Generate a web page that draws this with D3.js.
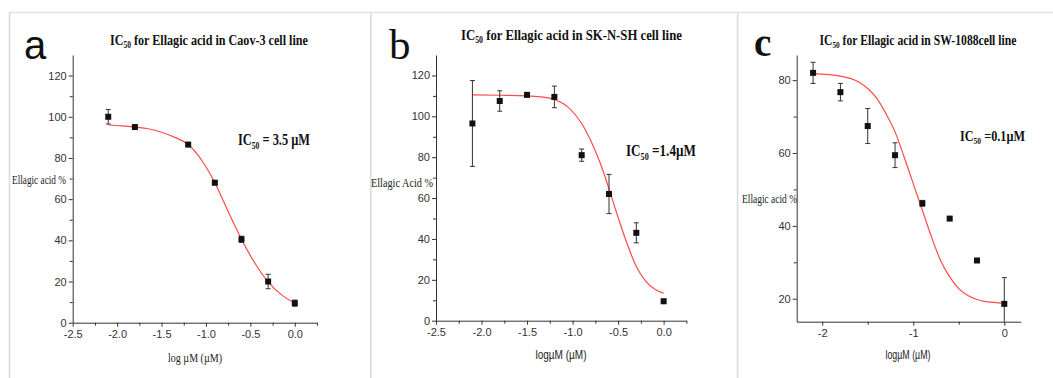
<!DOCTYPE html>
<html>
<head>
<meta charset="utf-8">
<script src="https://cdn.jsdelivr.net/npm/d3@7/dist/d3.min.js"></script>
<style>
  body { margin: 0; background: #fff; }
  svg { display: block; }
  .tick text { font-family: "Liberation Sans Narrow", "Arial Narrow", "Liberation Sans", sans-serif; font-size: 11px; fill: #333; }
  .tick line, .domain { stroke: #333; }
</style>
</head>
<body>
<div id="chart"></div>
<script>
// panel a : Caov-3
const doseA = [-2.1, -1.8, -1.2, -0.9, -0.6, -0.3, 0.0];
const meanA = [100, 95, 86.5, 68, 40.5, 20, 9.5];
const errA = [3.5, 1, 1, 1, 1.5, 3.5, 1.5];
const fitXA = [-2.1, -1.95, -1.8, -1.65, -1.5, -1.35, -1.2, -1.05, -0.9, -0.75, -0.6, -0.45, -0.3, -0.15, 0];
const fitYA = [96, 95.6, 95, 94.2, 92.5, 90, 86.5, 79, 68, 54, 40.5, 29, 19.8, 13.5, 9.5];

// panel b : SK-N-SH
const doseB = [-2.1, -1.8, -1.5, -1.2, -0.9, -0.6, -0.3, 0.0];
const meanB = [96.5, 107.5, 110.5, 109.5, 81, 62, 43, 9.5];
const errB = [21, 5, 1, 5.3, 3, 9.6, 4.9, 1];
const fitXB = [-2.1, -1.8, -1.5, -1.35, -1.2, -1.05, -0.9, -0.8, -0.7, -0.6, -0.5, -0.4, -0.3, -0.2, -0.1, 0];
const fitYB = [110.5, 110.3, 110, 109.5, 108.2, 104.5, 96.5, 88, 77.5, 64.5, 50.5, 37.5, 26.5, 19.5, 15.5, 13.5];

// panel c : SW-1088
const doseC = [-2.1, -1.8, -1.5, -1.2, -0.9, -0.6, -0.3, 0.0];
const meanC = [82, 76.7, 67.4, 59.4, 46.2, 42, 30.5, 18.6];
const errC = [2.9, 2.4, 4.8, 3.4, 0.8, 0.5, 0.5, 7.2];
const fitXC = [-2.1, -1.8, -1.6, -1.5, -1.4, -1.3, -1.2, -1.1, -1.0, -0.9, -0.8, -0.7, -0.6, -0.5, -0.4, -0.3, -0.2, 0];
const fitYC = [81.8, 81.1, 79.5, 77.7, 75, 70.8, 65.8, 58.9, 51.6, 44.3, 37, 30.5, 26, 22.8, 20.9, 19.8, 19.2, 18.8];

// ticks
const xTicksAB = [-2.5, -2.0, -1.5, -1.0, -0.5, 0.0];
const xMinorAB = [-2.25, -1.75, -1.25, -0.75, -0.25, 0.25];
const yTicksAB = [0, 20, 40, 60, 80, 100, 120];
const yMinorAB = [10, 30, 50, 70, 90, 110];
const xTicksC = [-2, -1, 0];
const xMinorC = [-1.5, -0.5];
const yTicksC = [20, 40, 60, 80];
const yMinorC = [30, 50, 70];

const panels = [
    {
        letter: "a", letterFont: "Liberation Sans", letterWeight: "normal", letterSize: 40, letterX: 24, letterY: 59,
        title: ["IC", "50", "for Ellagic acid in  Caov-3 cell line"], titleX: 209, titleY: 45, titleW: 198, titleSize: 15,
        ic50: ["IC", "50", "= 3.5 µM"], icX: 238, icY: 145, icW: 72, icSize: 17,
        ylab: "Ellagic acid %", ylabX: 12, ylabY: 184, ylabW: 54, ylabFont: "Liberation Serif",
        xlab: "log µM (µM)", xlabX: 195, xlabY: 362, xlabW: 54, xlabFont: "Liberation Serif",
        xDomain: [-2.5, 0.25], xRange: [72.7, 317], yDomain: [0, 130], yRange: [322.7, 55],
        xTicks: xTicksAB, xMinor: xMinorAB, yTicks: yTicksAB, yMinor: yMinorAB, xFmt: d => d.toFixed(1),
        dose: doseA, mean: meanA, err: errA, fitX: fitXA, fitY: fitYA
    },
    {
        letter: "b", letterFont: "Liberation Serif", letterWeight: "normal", letterSize: 43, letterX: 389, letterY: 59,
        title: ["IC", "50", "for Ellagic acid in  SK-N-SH cell line"], titleX: 571.5, titleY: 40, titleW: 221, titleSize: 15,
        ic50: ["IC", "50", "=1.4µM"], icX: 626, icY: 156, icW: 70, icSize: 17,
        ylab: "Ellagic Acid %", ylabX: 371, ylabY: 187, ylabW: 62, ylabFont: "Liberation Serif",
        xlab: "logµM (µM)", xlabX: 561, xlabY: 359, xlabW: 51, xlabFont: "Liberation Sans Narrow",
        xDomain: [-2.5, 0.25], xRange: [436, 686.4], yDomain: [0, 130], yRange: [320.7, 55],
        xTicks: xTicksAB, xMinor: xMinorAB, yTicks: yTicksAB, yMinor: yMinorAB, xFmt: d => d.toFixed(1),
        dose: doseB, mean: meanB, err: errB, fitX: fitXB, fitY: fitYB
    },
    {
        letter: "c", letterFont: "Liberation Serif", letterWeight: "bold", letterSize: 39, letterX: 754, letterY: 56,
        title: ["IC", "50", "for Ellagic acid in  SW-1088cell line"], titleX: 918, titleY: 45, titleW: 197, titleSize: 14,
        ic50: ["IC", "50", "=0.1µM"], icX: 960, icY: 141, icW: 65, icSize: 14,
        ylab: "Ellagic acid %", ylabX: 742, ylabY: 203, ylabW: 55, ylabFont: "Liberation Serif",
        xlab: "logµM (µM)", xlabX: 908, xlabY: 359, xlabW: 45, xlabFont: "Liberation Sans Narrow",
        xDomain: [-2.28, 0.18], xRange: [796.7, 1020.7], yDomain: [13.7, 86.9], yRange: [321.7, 55],
        xTicks: xTicksC, xMinor: xMinorC, yTicks: yTicksC, yMinor: yMinorC, xFmt: d => String(d).replace("\u2212", "-"),
        dose: doseC, mean: meanC, err: errC, fitX: fitXC, fitY: fitYC
    }
];

const width = 1053, height = 378;
const svg = d3.select("#chart").append("svg").attr("width", width).attr("height", height);

// light frame lines around the panels
svg.append("line").attr("x1", 9).attr("x2", width).attr("y1", 12.5).attr("y2", 12.5)
    .attr("stroke", "#e2e2e2").attr("stroke-width", 1.5);
[9.5, 370.8, 737.6].forEach(x => {
    svg.append("line").attr("x1", x).attr("x2", x).attr("y1", 12).attr("y2", height)
        .attr("stroke", "#dcdcdc").attr("stroke-width", 1.6);
});

// "IC" + subscript "50" + rest, laid out piece by piece then squeezed to width w
function subText(g, parts, x, y, size, w, anchor) {
    const grp = g.append("g");
    let cx = 0;
    parts.forEach((s, i) => {
        const t = grp.append("text")
            .attr("x", cx)
            .attr("y", i === 1 ? size * 0.22 : 0)
            .attr("font-family", "Liberation Serif, Times New Roman, serif")
            .attr("font-weight", "bold")
            .attr("font-size", i === 1 ? size * 0.62 : size)
            .attr("fill", "#111")
            .text(s);
        cx += t.node().getComputedTextLength();
        if (i === 1) cx += size * 0.25;
    });
    const sx = w / cx;
    const left = anchor === "middle" ? x - w / 2 : x;
    grp.attr("transform", `translate(${left},${y}) scale(${sx},1)`);
}

function drawPanel(p) {
    const g = svg.append("g");

    const x = d3.scaleLinear().domain(p.xDomain).range(p.xRange);
    const y = d3.scaleLinear().domain(p.yDomain).range(p.yRange).clamp(true);
    const x0 = p.xRange[0], y0 = p.yRange[0];

    // axes
    g.append("g")
        .attr("transform", `translate(0,${y0})`)
        .call(d3.axisBottom(x).tickValues(p.xTicks).tickFormat(p.xFmt).tickSize(4).tickSizeOuter(0).tickPadding(4));
    g.append("g")
        .attr("transform", `translate(0,${y0})`)
        .call(d3.axisBottom(x).tickValues(p.xMinor).tickFormat("").tickSize(3))
        .select(".domain").remove();
    g.append("g")
        .attr("transform", `translate(${x0},0)`)
        .call(d3.axisLeft(y).tickValues(p.yTicks).tickSize(4).tickSizeOuter(0).tickPadding(2));
    g.append("g")
        .attr("transform", `translate(${x0},0)`)
        .call(d3.axisLeft(y).tickValues(p.yMinor).tickFormat("").tickSize(3))
        .select(".domain").remove();

    // fitted curve
    const fit = p.fitX.map((d, i) => [d, p.fitY[i]]);
    g.append("path")
        .datum(fit)
        .attr("fill", "none")
        .attr("stroke", "#ff4a4a")
        .attr("stroke-width", 1.2)
        .attr("d", d3.line().x(d => x(d[0])).y(d => y(d[1])).curve(d3.curveMonotoneX));

    // points with error bars
    const pts = p.dose.map((d, i) => ({ dose: d, mean: p.mean[i], err: p.err[i] }));
    const pg = g.selectAll(".pt").data(pts).enter().append("g").attr("class", "pt");
    pg.append("line")
        .attr("x1", d => x(d.dose)).attr("x2", d => x(d.dose))
        .attr("y1", d => y(d.mean - d.err)).attr("y2", d => y(d.mean + d.err))
        .attr("stroke", "#333").attr("stroke-width", 1);
    [-1, 1].forEach(s => {
        pg.append("line")
            .attr("x1", d => x(d.dose) - 2.5).attr("x2", d => x(d.dose) + 2.5)
            .attr("y1", d => y(d.mean + s * d.err)).attr("y2", d => y(d.mean + s * d.err))
            .attr("stroke", "#333").attr("stroke-width", 1)
            .attr("display", d => (s < 0 && d.mean - d.err < p.yDomain[0]) ? "none" : null);
    });
    pg.append("rect")
        .attr("x", d => x(d.dose) - 3).attr("y", d => y(d.mean) - 3)
        .attr("width", 6).attr("height", 6)
        .attr("fill", "#111");

    // texts
    g.append("text")
        .attr("x", p.letterX).attr("y", p.letterY)
        .attr("font-family", p.letterFont + ", sans-serif")
        .attr("font-weight", p.letterWeight)
        .attr("font-size", p.letterSize)
        .attr("fill", "#111")
        .text(p.letter);

    subText(g, p.title, p.titleX, p.titleY, p.titleSize, p.titleW, "middle");
    subText(g, p.ic50, p.icX, p.icY, p.icSize, p.icW, "start");

    g.append("text")
        .attr("x", p.ylabX).attr("y", p.ylabY)
        .attr("font-family", p.ylabFont + ", serif")
        .attr("font-size", 12)
        .attr("fill", "#222")
        .attr("textLength", p.ylabW).attr("lengthAdjust", "spacingAndGlyphs")
        .text(p.ylab);

    g.append("text")
        .attr("x", p.xlabX).attr("y", p.xlabY)
        .attr("text-anchor", "middle")
        .attr("font-family", p.xlabFont + ", sans-serif")
        .attr("font-size", 12)
        .attr("fill", "#222")
        .attr("textLength", p.xlabW).attr("lengthAdjust", "spacingAndGlyphs")
        .text(p.xlab);
}

panels.forEach(drawPanel);
</script>
</body>
</html>
